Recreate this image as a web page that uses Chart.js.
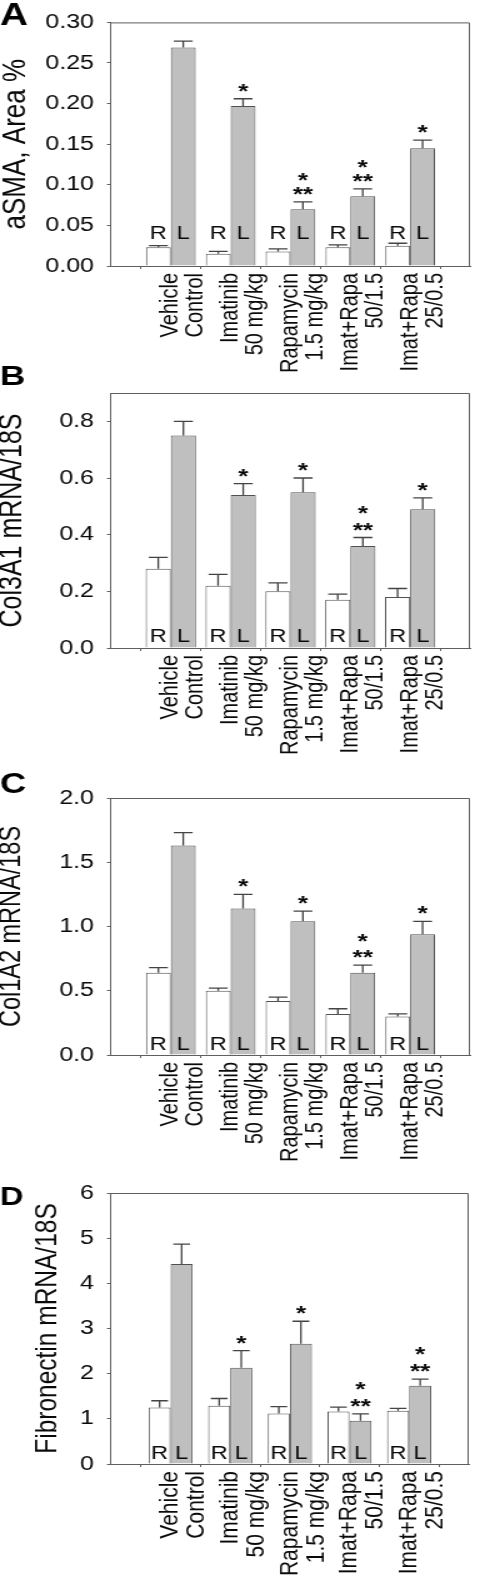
<!DOCTYPE html>
<html><head><meta charset="utf-8">
<script src="https://cdn.jsdelivr.net/npm/chart.js@4.4.1/dist/chart.umd.min.js"></script>
<style>
html,body{margin:0;padding:0;background:#fff;}
body{width:500px;height:1583px;position:relative;overflow:hidden;}
.panel{position:absolute;left:0;width:400px;transform:scaleX(1.25);transform-origin:0 0;}
</style></head><body>
<div class="panel" style="top:0px;height:380px"><canvas id="cA"></canvas></div>
<div class="panel" style="top:365px;height:400px"><canvas id="cB"></canvas></div>
<div class="panel" style="top:758px;height:412px"><canvas id="cC"></canvas></div>
<div class="panel" style="top:1170px;height:413px"><canvas id="cD"></canvas></div>
<script>
// ---- data ----
const groupLabels = [['Vehicle','Control'],['Imatinib','50 mg/kg'],['Rapamycin','1.5 mg/kg'],['Imat+Rapa','50/1.5'],['Imat+Rapa','25/0.5']];
const sideLetters = ['R','L'];

const aTitle = 'aSMA, Area %';
const aRight = [0.023,0.015,0.018,0.023,0.025];
const aRightErr = [0.002,0.003,0.003,0.003,0.003];
const aLeft = [0.269,0.197,0.070,0.086,0.145];
const aLeftErr = [0.008,0.009,0.009,0.009,0.010];
const aSig = [[],['*'],['*','**'],['*','**'],['*']];
const aTicks = [0,0.05,0.10,0.15,0.20,0.25,0.30];
const aTickLabels = ['0.00','0.05','0.10','0.15','0.20','0.25','0.30'];

const bTitle = 'Col3A1 mRNA/18S';
const bRight = [0.28,0.22,0.20,0.17,0.18];
const bRightErr = [0.04,0.04,0.03,0.02,0.03];
const bLeft = [0.75,0.54,0.55,0.36,0.49];
const bLeftErr = [0.05,0.04,0.05,0.03,0.04];
const bSig = [[],['*'],['*'],['*','**'],['*']];
const bTicks = [0,0.2,0.4,0.6,0.8];
const bTickLabels = ['0.0','0.2','0.4','0.6','0.8'];

const cTitle = 'Col1A2 mRNA/18S';
const cRight = [0.64,0.50,0.42,0.32,0.30];
const cRightErr = [0.04,0.02,0.03,0.04,0.02];
const cLeft = [1.63,1.14,1.04,0.64,0.94];
const cLeftErr = [0.10,0.11,0.08,0.06,0.10];
const cSig = [[],['*'],['*'],['*','**'],['*']];
const cTicks = [0,0.5,1.0,1.5,2.0];
const cTickLabels = ['0.0','0.5','1.0','1.5','2.0'];

const dTitle = 'Fibronectin mRNA/18S';
const dRight = [1.25,1.29,1.12,1.16,1.18];
const dRightErr = [0.15,0.16,0.15,0.10,0.05];
const dLeft = [4.43,2.13,2.66,0.96,1.73];
const dLeftErr = [0.44,0.38,0.50,0.15,0.15];
const dSig = [[],['*'],['*'],['*','**'],['*','**']];
const dTicks = [0,1,2,3,4,5,6];
const dTickLabels = ['0','1','2','3','4','5','6'];

// ---- drawing ----
const FONT = '"Liberation Sans", Arial, Helvetica, sans-serif';
const AXIS = '#5f5f5f';
const INK = '#0a0a0a';

const decor = {
  id: 'decor',
  afterDatasetsDraw(chart) {
    const o = chart.options.plugins.decor;
    const ctx = chart.ctx, area = chart.chartArea, ys = chart.scales.y;
    ctx.save();
    // frame top/right
    ctx.strokeStyle = AXIS; ctx.lineWidth = 1;
    ctx.beginPath();
    ctx.moveTo(area.left, area.top + 0.5);
    ctx.lineTo(area.right - 0.5, area.top + 0.5);
    ctx.lineTo(area.right - 0.5, area.bottom);
    ctx.stroke();
    chart.data.datasets.forEach((ds, di) => {
      const meta = chart.getDatasetMeta(di);
      meta.data.forEach((bar, i) => {
        const v = ds.data[i];
        if (v === null || v === undefined) return;
        const e = ds.errors[i];
        const top = ys.getPixelForValue(v + e);
        const half = bar.width * 0.38;
        ctx.strokeStyle = '#444'; ctx.lineWidth = 1.3;
        ctx.beginPath();
        ctx.moveTo(bar.x, bar.y); ctx.lineTo(bar.x, top);
        ctx.moveTo(bar.x - half, top); ctx.lineTo(bar.x + half, top);
        ctx.stroke();
        // side letter
        ctx.fillStyle = INK;
        ctx.font = '19px ' + FONT;
        ctx.textAlign = 'center'; ctx.textBaseline = 'alphabetic';
        ctx.fillText(sideLetters[di], bar.x, area.bottom - o.letterOffset);
        // significance marks above left bars
        if (di === 1) {
          const lines = o.sig[i - 1] || [];
          ctx.font = 'bold 21px ' + FONT;
          for (let k = 0; k < lines.length; k++) {
            const line = lines[lines.length - 1 - k];
            ctx.fillText(line, bar.x, top - o.starGap - k * o.starStep);
          }
        }
      });
    });
    // panel letter
    ctx.fillStyle = '#000';
    ctx.font = 'bold ' + o.letterSize + 'px ' + FONT;
    ctx.textAlign = 'left'; ctx.textBaseline = 'alphabetic';
    ctx.fillText(o.letter, 0, o.letterBase);
    ctx.restore();
  }
};

function makePanel(id, p) {
  const labels = [''].concat(groupLabels, ['']);
  const pad = arr => [null].concat(arr, [null]);
  const padE = arr => [0].concat(arr, [0]);
  new Chart(document.getElementById(id), {
    type: 'bar',
    data: {
      labels: labels,
      datasets: [
        {data: pad(p.right), errors: padE(p.rightErr), backgroundColor: '#ffffff', borderColor: '#505050', borderWidth: 1,
         categoryPercentage: p.catPct, barPercentage: 1},
        {data: pad(p.left), errors: padE(p.leftErr), backgroundColor: '#bfbfbf', borderColor: '#505050', borderWidth: 1,
         categoryPercentage: p.catPct, barPercentage: 1}
      ]
    },
    plugins: [decor],
    options: {
      responsive: true, maintainAspectRatio: false, animation: false,
      layout: {padding: {top: p.padTop, right: p.padRight, left: 0, bottom: 0}},
      plugins: {
        legend: {display: false}, tooltip: {enabled: false},
        decor: {letter: p.letter, letterSize: p.letterSize, letterBase: p.letterBase, letterOffset: p.letterOffset,
                sig: p.sig, starGap: p.starGap, starStep: p.starStep}
      },
      scales: {
        x: {
          type: 'category', offset: false,
          grid: {display: true, drawOnChartArea: false, drawTicks: true, tickLength: 3, color: AXIS},
          border: {display: true, color: AXIS, width: 1},
          ticks: {autoSkip: false, maxRotation: 90, minRotation: 90, padding: 4, color: INK,
                  font: {family: FONT, size: p.xFont, lineHeight: 1}},
          afterFit(s) { s.height = p.xh; }
        },
        y: {
          min: 0, max: p.ymax,
          afterBuildTicks(s) { s.ticks = p.ticks.map(v => ({value: v})); },
          grid: {display: true, drawOnChartArea: false, drawTicks: true, tickLength: 3.2, color: AXIS},
          border: {display: true, color: AXIS, width: 1},
          ticks: {padding: 10.4, color: INK, font: {family: FONT, size: 20},
                  callback: (v, i) => p.tickLabels[i]},
          title: {display: true, text: p.title, color: INK,
                  font: {family: FONT, size: p.titleSize, lineHeight: 1},
                  padding: {top: p.titlePad, bottom: 0}},
          afterFit(s) { s.width = 88.8; }
        }
      }
    }
  });
}

makePanel('cA', {right: aRight, rightErr: aRightErr, left: aLeft, leftErr: aLeftErr, sig: aSig,
  ticks: aTicks, tickLabels: aTickLabels, ymax: 0.30, title: aTitle, titleSize: 26, titlePad: -0.2,
  padTop: 15, padRight: 11.2, xh: 114, xFont: 20, catPct: 0.83, letter: 'A', letterSize: 31, letterBase: 25,
  letterOffset: 27, starGap: 1, starStep: 14});
makePanel('cB', {right: bRight, rightErr: bRightErr, left: bLeft, leftErr: bLeftErr, sig: bSig,
  ticks: bTicks, tickLabels: bTickLabels, ymax: 0.9, title: bTitle, titleSize: 25, titlePad: -2.1,
  padTop: 28, padRight: 20, xh: 117, xFont: 20, catPct: 0.84, letter: 'B', letterSize: 28, letterBase: 20,
  letterOffset: 6, starGap: 1, starStep: 17});
makePanel('cC', {right: cRight, rightErr: cRightErr, left: cLeft, leftErr: cLeftErr, sig: cSig,
  ticks: cTicks, tickLabels: cTickLabels, ymax: 2.0, title: cTitle, titleSize: 23.5, titlePad: -1.75,
  padTop: 40, padRight: 17.6, xh: 115, xFont: 20, catPct: 0.83, letter: 'C', letterSize: 29, letterBase: 35,
  letterOffset: 5, starGap: 1, starStep: 16});
makePanel('cD', {right: dRight, rightErr: dRightErr, left: dLeft, leftErr: dLeftErr, sig: dSig,
  ticks: dTicks, tickLabels: dTickLabels, ymax: 6, title: dTitle, titleSize: 24.5, titlePad: 25.6,
  padTop: 23, padRight: 2.4, xh: 119, xFont: 21, catPct: 0.74, letter: 'D', letterSize: 26, letterBase: 35,
  letterOffset: 5, starGap: 1, starStep: 17});
</script>
</body></html>
